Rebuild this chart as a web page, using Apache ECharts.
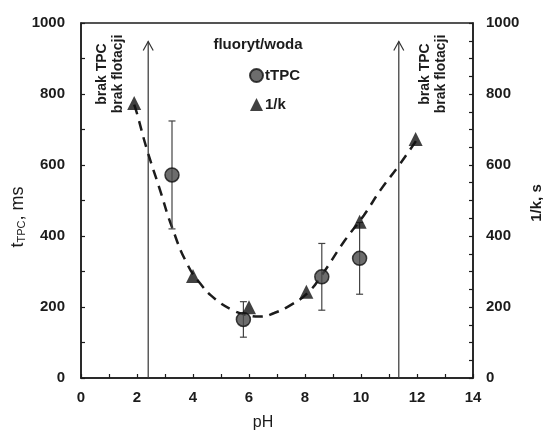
<!DOCTYPE html>
<html>
<head>
<meta charset="utf-8">
<script src="https://cdn.jsdelivr.net/npm/echarts@6/dist/echarts.min.js"></script>
<style>
  html, body { margin: 0; padding: 0; background: #fff; }
  #chart { width: 543px; height: 433px; }
</style>
</head>
<body>
<div id="chart"></div>
<script>
// tTPC (ms) – mean and error
const tpcX = [3.25, 5.8, 8.6, 9.95];
const tpcVal = [572, 165, 285, 337];
const tpcErr = [152, 50, 94, 101];

// 1/k (s)
const kX = [1.9, 4.0, 6.0, 8.05, 9.95, 11.95];
const kVal = [775, 287, 199, 243, 440, 673];

// dashed trend line
const curveX = [1.9, 2.0, 2.35, 2.8, 3.25, 3.8, 4.3, 4.8, 5.4, 5.9, 6.4, 6.9, 7.5, 8.1, 8.6, 9.4, 10.1, 10.7, 11.3, 11.75, 12.0];
const curveY = [770, 745, 645, 535, 425, 320, 262, 222, 192, 178, 173, 183, 206, 240, 290, 385, 458, 530, 593, 643, 672];

// "brak TPC / brak flotacji" arrows
const arrowX = [2.4, 11.35];
const arrowTop = 948;

const xTicks = [0, 2, 4, 6, 8, 10, 12, 14];
const yTicks = [0, 200, 400, 600, 800, 1000];

const font = '"Liberation Sans", Arial, sans-serif';
const ink = '#1c1c1c';

const chart = echarts.init(document.getElementById('chart'));

function axisStyle(interval, pos, margin) {
  return {
    type: 'value',
    min: 0,
    max: 1000,
    interval: interval,
    position: pos,
    splitLine: { show: false },
    axisLine: { show: true, lineStyle: { color: ink, width: 1.5 } },
    axisTick: { inside: true, length: 4, lineStyle: { color: ink, width: 1.2 } },
    axisLabel: {
      margin: margin,
      fontFamily: font,
      fontWeight: 'bold',
      fontSize: 15,
      color: ink,
      formatter: function (v) { return yTicks.indexOf(v) >= 0 ? String(v) : ''; }
    }
  };
}

chart.setOption({
  backgroundColor: '#fff',
  animation: false,
  grid: { left: 81, right: 70, top: 23, bottom: 55, show: true, borderColor: ink, borderWidth: 1.5 },
  legend: {
    data: ['tTPC', '1/k'],
    orient: 'vertical',
    left: 249,
    top: 68,
    padding: 0,
    itemWidth: 13,
    itemHeight: 13,
    itemGap: 14,
    textStyle: { fontFamily: font, fontWeight: 'bold', fontSize: 15, color: ink, padding: [0, 0, 0, -3] }
  },
  xAxis: {
    type: 'value',
    min: 0,
    max: 14,
    interval: 1,
    splitLine: { show: false },
    axisLine: { lineStyle: { color: ink, width: 1.5 } },
    axisTick: { inside: true, length: 4, lineStyle: { color: ink, width: 1.2 } },
    axisLabel: {
      margin: 12,
      fontFamily: font,
      fontWeight: 'bold',
      fontSize: 15,
      color: ink,
      formatter: function (v) { return xTicks.indexOf(v) >= 0 ? String(v) : ''; }
    }
  },
  yAxis: [axisStyle(100, 'left', 16), axisStyle(50, 'right', 13)],
  series: [
    {
      name: 'trend',
      type: 'line',
      yAxisIndex: 1,
      smooth: true,
      symbol: 'none',
      data: curveX.map((x, i) => [x, curveY[i]]),
      lineStyle: { color: ink, width: 2.5, type: [10, 7] },
      z: 2
    },
    {
      name: 'arrows',
      type: 'custom',
      data: arrowX.map(x => [x, arrowTop]),
      renderItem: function (params, api) {
        const bottom = api.coord([api.value(0), 0]);
        const top = api.coord([api.value(0), api.value(1)]);
        return {
          type: 'group',
          children: [
            { type: 'line', shape: { x1: bottom[0], y1: bottom[1], x2: top[0], y2: top[1] }, style: { stroke: '#333', lineWidth: 1.2 } },
            { type: 'polyline', shape: { points: [[top[0] - 5, top[1] + 9], [top[0], top[1]], [top[0] + 5, top[1] + 9]] }, style: { stroke: '#333', lineWidth: 1.2, fill: null } }
          ]
        };
      },
      z: 1
    },
    {
      name: 'errors',
      type: 'custom',
      data: tpcX.map((x, i) => [x, tpcVal[i] - tpcErr[i], tpcVal[i] + tpcErr[i]]),
      renderItem: function (params, api) {
        const lo = api.coord([api.value(0), api.value(1)]);
        const hi = api.coord([api.value(0), api.value(2)]);
        const s = { stroke: '#444', lineWidth: 1.2 };
        return {
          type: 'group',
          children: [
            { type: 'line', shape: { x1: lo[0], y1: lo[1], x2: hi[0], y2: hi[1] }, style: s },
            { type: 'line', shape: { x1: lo[0] - 3.5, y1: lo[1], x2: lo[0] + 3.5, y2: lo[1] }, style: s },
            { type: 'line', shape: { x1: hi[0] - 3.5, y1: hi[1], x2: hi[0] + 3.5, y2: hi[1] }, style: s }
          ]
        };
      },
      z: 3
    },
    {
      name: 'tTPC',
      type: 'scatter',
      symbol: 'circle',
      symbolSize: 14,
      data: tpcX.map((x, i) => [x, tpcVal[i]]),
      itemStyle: { color: '#484848', borderColor: '#111', borderWidth: 1.5 },
      z: 4
    },
    {
      name: '1/k',
      type: 'scatter',
      yAxisIndex: 1,
      symbol: 'triangle',
      symbolSize: 14,
      data: kX.map((x, i) => [x, kVal[i]]),
      itemStyle: { color: '#111' },
      z: 5
    }
  ],
  graphic: [
    { type: 'text', x: 258, y: 45, style: { text: 'fluoryt/woda', font: 'bold 15px ' + font, fill: ink, align: 'center', verticalAlign: 'middle', textAlign: 'center', textVerticalAlign: 'middle' } },
    { type: 'text', x: 263, y: 423, style: { text: 'pH', font: '16px ' + font, fill: ink, align: 'center', verticalAlign: 'middle', textAlign: 'center', textVerticalAlign: 'middle' } },
    { type: 'text', x: 537, y: 203, rotation: Math.PI / 2, style: { text: '1/k, s', font: 'bold 15px ' + font, fill: ink, align: 'center', verticalAlign: 'middle', textAlign: 'center', textVerticalAlign: 'middle' } },
    {
      type: 'text', x: 17, y: 217, rotation: Math.PI / 2,
      style: {
        text: '{a|t}{b|TPC}{a|, ms}',
        align: 'center', verticalAlign: 'middle', textAlign: 'center', textVerticalAlign: 'middle',
        fill: ink,
        rich: {
          a: { fontFamily: font, fontSize: 18, color: ink, lineHeight: 20, verticalAlign: 'bottom' },
          b: { fontFamily: font, fontSize: 11, color: ink, lineHeight: 20, verticalAlign: 'bottom', padding: [6, 0, 0, 0] }
        }
      }
    },
    { type: 'text', x: 110, y: 74, rotation: Math.PI / 2, style: { text: 'brak TPC\nbrak flotacji', font: 'bold 14px ' + font, lineHeight: 16, fill: ink, align: 'center', verticalAlign: 'middle', textAlign: 'center', textVerticalAlign: 'middle' } },
    { type: 'text', x: 433, y: 74, rotation: Math.PI / 2, style: { text: 'brak TPC\nbrak flotacji', font: 'bold 14px ' + font, lineHeight: 16, fill: ink, align: 'center', verticalAlign: 'middle', textAlign: 'center', textVerticalAlign: 'middle' } }
  ]
});
</script>
</body>
</html>
